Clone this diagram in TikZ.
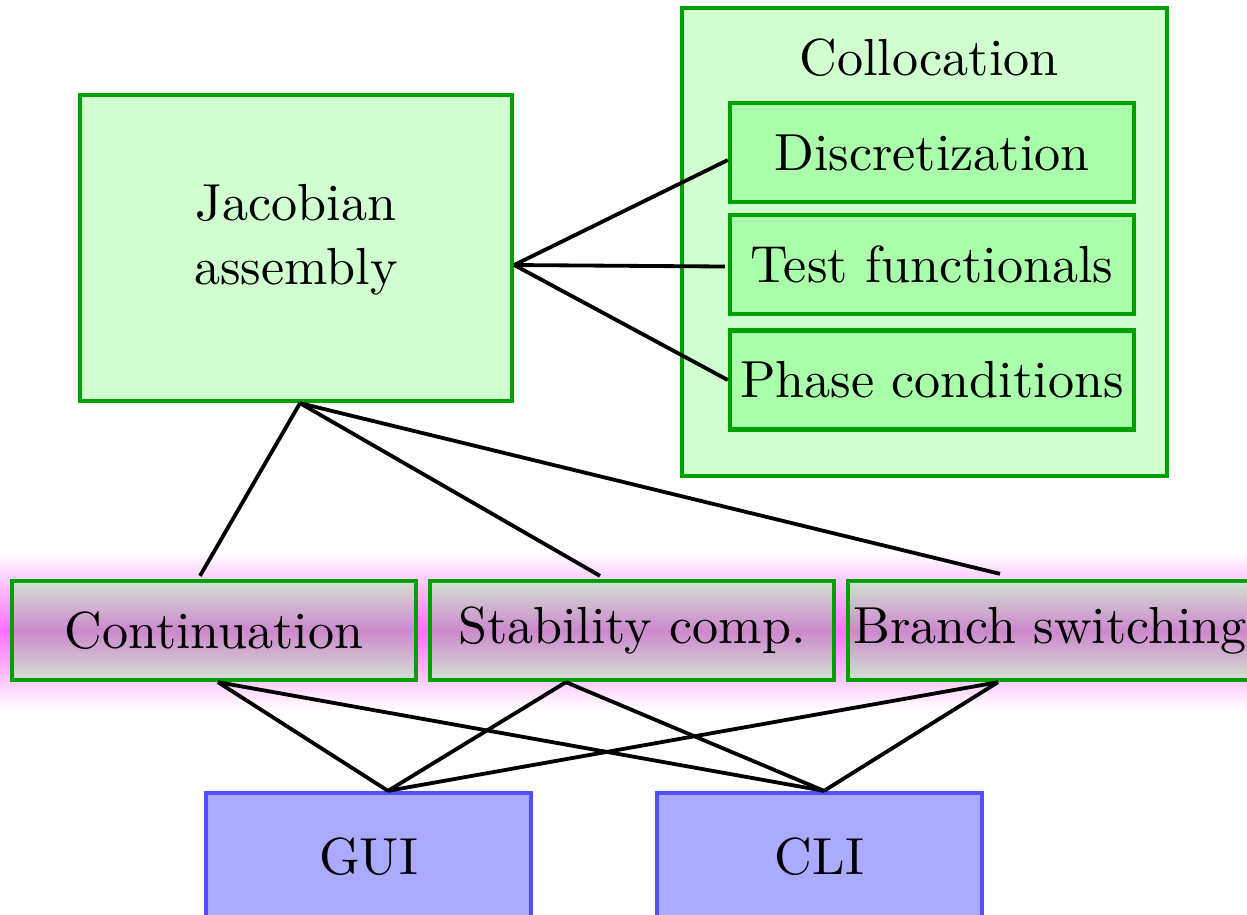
\documentclass[tikz,border=0pt]{standalone}
\usetikzlibrary{calc}
\definecolor{lgreen}{RGB}{208,255,208}
\definecolor{mgreen}{RGB}{170,255,170}
\definecolor{bgreen}{RGB}{0,160,0}
\definecolor{lblue}{RGB}{170,170,255}
\definecolor{bblue}{RGB}{80,80,255}
\definecolor{glow}{RGB}{255,110,255}
\definecolor{shtop}{RGB}{210,226,210}
\definecolor{shmid}{RGB}{204,136,204}
\begin{document}
\begin{tikzpicture}[x=0.1966pt,y=-0.1966pt,
  every node/.style={font=\fontsize{10.25}{12.6}\selectfont},
  gbox/.style={draw=bgreen,line width=0.85pt,fill=lgreen,align=center,inner sep=0pt},
  ibox/.style={draw=bgreen,line width=0.85pt,fill=mgreen,minimum width=404*0.1966pt,minimum height=99*0.1966pt,inner sep=0pt},
  mbox/.style={draw=bgreen,line width=0.85pt,top color=shtop,bottom color=shtop,middle color=shmid,minimum width=404*0.1966pt,minimum height=99*0.1966pt,inner sep=0pt},
  ubox/.style={draw=bblue,line width=0.85pt,fill=lblue,minimum width=325*0.1966pt,minimum height=128*0.1966pt,inner sep=0pt},
  conn/.style={line width=0.75pt}]
\useasboundingbox (0,0) rectangle (1247,914);
\clip (0,0) rectangle (1247,914);
% glow band
\shade[top color=white,bottom color=white,middle color=glow] (0,552) rectangle (1247,709);
% Jacobian
\node[gbox,minimum width=432*0.1966pt,minimum height=306*0.1966pt] (jac) at (296,248) {};
\node (jactext) at (296,240) [align=center] {Jacobian\\assembly};
% Collocation container
\node[gbox,minimum width=485*0.1966pt,minimum height=468*0.1966pt] (coll) at (924.5,242) {};
\node (colltitle) at (929,58) {Collocation};
\node[ibox] (disc) at (932,152.5) {Discretization};
\node[ibox] (test) at (932,264.5) {Test functionals};
\node[ibox] (phase) at (932,380) {Phase conditions};
% middle row
\node[mbox] (cont) at (214,630.5) {Continuation};
\node[mbox] (stab) at (632,630.5) {Stability comp.};
\node[mbox] (bran) at (1050,630.5) {Branch switching};
% bottom
\node[ubox] (gui) at (368.5,857) {GUI};
\node[ubox] (cli) at (819.5,857) {CLI};
% connectors
\draw[conn] ($(jac.east)+(0,17)$) -- ($(disc.west)+(0,7.5)$);
\draw[conn] ($(jac.east)+(0,17)$) -- ($(test.west)+(-3,2)$);
\draw[conn] ($(jac.east)+(0,17)$) -- (phase.west);
\draw[conn] ($(jac.south)+(4,0)$) -- ($(cont.north)+(-14,-3)$);
\draw[conn] ($(jac.south)+(4,0)$) -- ($(stab.north)+(-32,-3)$);
\draw[conn] ($(jac.south)+(4,0)$) -- ($(bran.north)+(-50,-5)$);
\draw[conn] ($(cont.south)+(4,0)$) -- ($(gui.north)+(19.5,0)$);
\draw[conn] ($(cont.south)+(4,0)$) -- ($(cli.north)+(4.5,0)$);
\draw[conn] ($(stab.south)+(-66,0)$) -- ($(gui.north)+(19.5,0)$);
\draw[conn] ($(stab.south)+(-66,0)$) -- ($(cli.north)+(4.5,0)$);
\draw[conn] ($(bran.south)+(-52,0)$) -- ($(gui.north)+(19.5,0)$);
\draw[conn] ($(bran.south)+(-52,0)$) -- ($(cli.north)+(4.5,0)$);
\end{tikzpicture}
\end{document}
